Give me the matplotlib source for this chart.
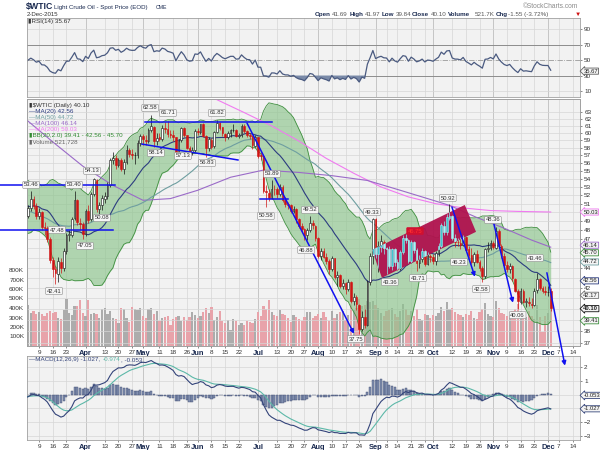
import numpy as np
import pandas as pd
import matplotlib
matplotlib.use("Agg")
import matplotlib.pyplot as plt
from matplotlib.patches import Polygon, ConnectionPatch
from matplotlib.ticker import NullLocator

plt.rcParams['font.family'] = ['Liberation Sans', 'DejaVu Sans']

holidays = ['2014-12-25', '2015-01-01', '2015-01-19', '2015-02-16', '2015-04-03',
            '2015-05-25', '2015-07-03', '2015-09-07', '2015-11-26']
days = pd.bdate_range('2014-12-01', '2015-12-16', freq='C', holidays=holidays)

# closes before the visible window (Dec 2014 - Feb 2015), used only for the indicators
warm_closes = [69.00, 66.88, 67.38, 66.81, 65.84, 63.05, 63.82, 60.94, 59.95, 57.81,
               55.91, 55.93, 56.47, 54.11, 56.52, 55.26, 57.12, 55.84, 54.73, 53.61,
               54.12, 53.27,
               52.69, 50.04, 47.93, 48.65, 48.79, 48.36, 46.07, 45.89, 48.48, 46.25,
               48.69, 46.39, 47.78, 46.31, 45.59, 45.15, 46.23, 44.45, 44.53, 48.24,
               49.57, 53.05, 48.45, 50.48, 51.69, 52.86, 50.02, 48.84, 51.21, 52.78,
               53.53, 52.14, 51.16, 50.34, 49.45, 49.25, 50.99, 48.17, 49.76]

# visible window: 2-Mar-2015 .. 2-Dec-2015
opens = [49.76, 49.60, 50.50, 51.50, 50.70, 49.60, 50.00, 48.30, 48.20, 47.00,
         44.80, 43.90, 43.40, 44.60, 44.00, 45.70, 47.40, 47.50, 49.30, 51.40,
         48.80, 48.70, 47.60, 50.10, 49.20, 52.10, 53.90, 50.40, 50.80, 51.60,
         51.90, 53.30, 56.40, 56.70, 55.70, 56.40, 55.30, 56.20, 57.70, 57.20,
         57.00, 57.10, 58.60, 59.60, 59.10, 58.90, 60.40, 60.90, 58.90, 59.40,
         59.20, 60.70, 60.50, 59.90, 59.70, 59.40, 57.30, 59.00, 60.70, 59.70,
         58.00, 57.50, 57.70, 60.30, 60.20, 61.20, 59.60, 58.00, 59.10, 58.20,
         60.10, 61.40, 60.80, 59.90, 59.50, 60.00, 60.40, 60.40, 59.60, 59.70,
         61.00, 60.30, 59.70, 59.60, 58.30, 59.40, 57.00, 56.90, 52.50, 52.30,
         51.70, 52.80, 52.70, 52.20, 53.00, 51.40, 50.90, 50.90, 50.10, 50.40,
         49.20, 48.40, 48.10, 47.40, 48.00, 48.80, 48.50, 47.10, 45.20, 45.70,
         45.10, 44.70, 43.90, 45.00, 43.10, 43.30, 42.20, 42.50, 41.90, 42.60,
         40.80, 41.10, 40.40, 38.20, 39.30, 38.60, 42.60, 45.20, 49.20, 45.40,
         46.20, 46.70, 46.00, 45.90, 44.20, 45.90, 44.60, 44.00, 45.60, 47.10,
         46.90, 44.70, 46.70, 45.80, 44.50, 44.90, 45.70, 44.40, 45.20, 45.10,
         44.70, 45.50, 46.30, 48.50, 47.80, 49.40, 49.60, 47.10, 46.70, 46.60,
         46.40, 47.20, 45.90, 45.30, 44.60, 45.40, 44.60, 44.00, 43.20, 45.90,
         46.10, 46.60, 46.10, 47.90, 46.30, 45.20, 44.30, 43.90, 44.20, 42.90,
         41.70, 40.70, 41.70, 40.70, 40.70, 40.50, 40.40, 41.80, 42.90, 42.00,
         41.70, 41.60, 41.69]
highs = [50.10, 50.90, 52.48, 51.90, 51.10, 50.50, 50.20, 48.90, 48.40, 47.20,
         45.10, 44.20, 45.10, 45.00, 46.00, 47.70, 48.00, 49.50, 52.48, 51.60,
         49.40, 48.90, 50.40, 50.80, 52.40, 54.13, 54.00, 51.20, 52.00, 52.40,
         53.60, 56.60, 57.40, 57.00, 56.70, 56.70, 56.50, 58.40, 58.00, 57.90,
         57.50, 59.00, 59.90, 59.90, 59.80, 60.70, 62.58, 61.00, 60.00, 60.00,
         61.10, 61.60, 61.71, 60.40, 60.40, 59.50, 59.20, 60.90, 60.80, 59.80,
         58.20, 58.10, 60.50, 60.70, 61.30, 61.40, 59.80, 59.40, 59.30, 60.30,
         61.82, 61.50, 60.90, 60.00, 60.30, 60.60, 61.20, 60.50, 60.00, 61.30,
         61.20, 60.40, 60.00, 59.70, 59.70, 59.50, 57.40, 57.00, 53.30, 52.80,
         53.89, 53.20, 53.00, 53.40, 53.20, 51.80, 51.20, 51.00, 50.70, 50.50,
         49.40, 48.80, 48.20, 48.20, 49.52, 49.10, 48.60, 47.20, 46.00, 46.10,
         45.50, 44.90, 45.20, 45.00, 43.70, 43.40, 42.90, 42.60, 42.90, 42.70,
         41.50, 41.30, 40.50, 39.80, 40.00, 42.80, 45.50, 49.33, 49.30, 46.80,
         47.50, 46.90, 46.20, 46.30, 46.00, 46.00, 44.90, 45.80, 47.40, 47.60,
         47.00, 46.90, 46.80, 46.00, 45.30, 46.00, 45.80, 45.60, 45.40, 45.40,
         45.70, 46.60, 48.80, 49.00, 49.80, 50.92, 49.70, 47.60, 47.10, 47.20,
         47.50, 47.30, 46.30, 46.00, 45.60, 45.80, 44.80, 44.20, 46.10, 46.70,
         46.90, 46.80, 48.36, 48.10, 46.50, 45.50, 44.70, 44.50, 44.30, 43.00,
         41.90, 42.00, 41.90, 41.00, 41.10, 41.00, 42.00, 43.46, 43.00, 42.20,
         42.20, 42.20, 41.97]
lows = [49.00, 49.40, 50.20, 50.40, 49.20, 49.20, 48.00, 47.50, 46.70, 44.50,
        43.10, 42.41, 42.60, 43.50, 43.70, 45.40, 46.80, 47.20, 49.10, 48.60,
        48.00, 47.05, 47.30, 48.80, 49.00, 51.90, 50.08, 49.80, 50.30, 51.10,
        51.50, 53.00, 55.90, 55.30, 55.50, 55.00, 54.60, 55.90, 56.80, 56.50,
        55.90, 56.70, 58.30, 58.40, 58.40, 58.60, 60.20, 58.14, 58.40, 58.90,
        58.90, 60.00, 59.50, 59.30, 58.90, 57.13, 57.20, 58.80, 59.40, 57.80,
        57.20, 57.00, 57.50, 59.70, 59.90, 59.50, 56.83, 57.60, 57.90, 58.00,
        60.00, 60.40, 59.60, 58.90, 59.20, 59.50, 60.10, 59.40, 59.30, 59.50,
        60.00, 59.40, 59.20, 57.80, 58.10, 56.70, 56.40, 52.30, 50.58, 51.30,
        51.50, 52.00, 51.70, 51.90, 51.20, 50.60, 50.40, 49.90, 49.90, 48.80,
        48.20, 47.80, 46.88, 46.90, 47.80, 48.10, 46.80, 45.00, 44.80, 45.00,
        44.40, 43.40, 43.70, 42.90, 42.20, 42.00, 41.90, 41.40, 41.70, 40.60,
        40.40, 39.90, 37.75, 38.00, 38.30, 38.50, 42.30, 44.40, 45.00, 43.60,
        45.60, 45.40, 43.36, 44.00, 43.80, 44.20, 43.80, 43.80, 45.40, 46.60,
        44.50, 44.50, 45.50, 43.71, 44.00, 44.60, 44.20, 44.30, 44.60, 44.40,
        44.30, 45.20, 46.10, 47.50, 47.40, 49.10, 46.90, 46.20, 46.23, 45.90,
        46.30, 45.60, 45.00, 44.40, 44.20, 44.50, 43.70, 42.58, 43.00, 45.60,
        45.80, 45.90, 45.90, 46.10, 45.00, 44.00, 43.60, 43.50, 42.70, 41.60,
        40.06, 40.50, 40.60, 40.20, 40.30, 40.10, 40.30, 41.50, 41.80, 41.50,
        41.30, 41.20, 39.84]
closes = [49.59, 50.52, 51.53, 50.76, 49.61, 50.00, 48.29, 48.17, 47.05, 44.84,
          43.88, 43.46, 44.66, 43.96, 45.72, 47.45, 47.51, 49.21, 51.43, 48.87,
          48.68, 47.60, 50.09, 49.14, 52.14, 53.98, 50.42, 50.79, 51.64, 51.91,
          53.29, 56.39, 56.71, 55.74, 56.38, 55.26, 56.16, 57.74, 57.15, 56.99,
          57.06, 58.58, 59.63, 59.15, 58.93, 60.40, 60.93, 58.94, 59.39, 59.25,
          60.75, 60.50, 59.88, 59.69, 59.43, 57.26, 58.98, 60.72, 59.72, 58.03,
          57.51, 57.68, 60.30, 60.20, 61.26, 59.64, 58.00, 59.13, 58.14, 60.14,
          61.43, 60.77, 59.96, 59.52, 59.97, 60.45, 60.45, 59.61, 59.68, 61.01,
          60.27, 59.70, 59.63, 58.33, 59.47, 56.96, 56.93, 52.53, 52.33, 51.65,
          52.78, 52.74, 52.20, 53.04, 51.41, 50.91, 50.89, 50.15, 50.36, 49.19,
          48.45, 48.14, 47.39, 47.98, 48.79, 48.52, 47.12, 45.17, 45.74, 45.15,
          44.66, 43.87, 44.96, 43.08, 43.30, 42.23, 42.50, 41.87, 42.62, 40.80,
          41.14, 40.45, 38.24, 39.31, 38.60, 42.56, 45.22, 49.20, 45.41, 46.25,
          46.75, 46.05, 45.94, 44.15, 45.92, 44.63, 44.00, 45.59, 47.15, 46.90,
          44.68, 46.68, 45.83, 44.48, 44.91, 45.70, 44.43, 45.23, 45.09, 44.74,
          45.54, 46.26, 48.53, 47.81, 49.43, 49.63, 47.10, 46.66, 46.64, 46.38,
          47.26, 45.89, 45.29, 44.60, 45.38, 44.60, 43.98, 43.20, 45.94, 46.06,
          46.59, 46.14, 47.90, 46.32, 45.20, 44.29, 43.87, 44.21, 42.93, 41.75,
          40.74, 41.74, 40.67, 40.75, 40.54, 40.39, 41.75, 42.87, 42.04, 41.71,
          41.65, 41.65, 40.10]
volumes_k = [355, 432, 348, 372, 341, 362, 336, 318, 352, 368,
             345, 361, 297, 282, 376, 491, 352, 330, 425, 424,
             480, 352, 316, 487, 338, 352, 332, 299, 386, 395,
             340, 372, 298, 287, 240, 402, 391, 300, 254, 410,
             392, 380, 402, 311, 298, 385, 402, 338, 371, 268,
             291, 302, 311, 226, 285, 305, 318, 258, 310, 275,
             302, 362, 330, 290, 318, 354, 402, 345, 414, 272,
             301, 370, 265, 240, 278, 172, 286, 260, 218, 242,
             226, 268, 251, 240, 282, 363, 312, 425, 392, 480,
             357, 330, 318, 380, 341, 329, 292, 248, 325, 302,
             280, 262, 310, 354, 362, 290, 318, 332, 290, 358,
             304, 261, 372, 298, 342, 356, 372, 276, 328, 440,
             380, 405, 498, 420, 436, 470, 468, 472, 436, 398,
             352, 318, 372, 378, 402, 341, 310, 368, 445, 388,
             330, 372, 321, 392, 288, 275, 342, 330, 296, 322,
             318, 344, 410, 372, 460, 390, 402, 362, 341, 322,
             308, 336, 322, 364, 298, 288, 362, 386, 452, 338,
             312, 305, 478, 398, 352, 338, 320, 326, 372, 392,
             438, 372, 358, 305, 364, 321, 288, 434, 302, 152,
             318, 352, 521.728]

# long moving averages (day index -> value)
ma100_day = [0, 10, 21, 32, 43, 53, 63, 75, 87, 100, 112, 125, 137, 149, 155, 165, 175, 185, 192]
ma100_val = [62.0, 58.8, 55.6, 53.2, 51.4, 51.6, 52.6, 54.2, 55.1, 54.8, 54.4, 53.8, 52.6,
             51.4, 50.8, 49.4, 48.2, 46.9, 46.14]
ma200_day = [60, 70, 80, 90, 100, 110, 120, 130, 140, 150, 160, 170, 180, 192]
ma200_val = [67.5, 64.8, 62.9, 61.0, 58.9, 56.6, 54.7, 53.0, 51.8, 51.0, 50.5, 50.2, 50.1, 50.03]

# swing labels on the price panel: text, day index, price
swing_text = ['53.46', '53.40', '47.48', '54.13', '50.08', '47.05', '42.41', '62.58', '61.71',
              '58.14', '57.13', '56.83', '61.82', '53.89', '50.58', '49.52', '46.88', '49.33',
              '50.92', '46.23', '43.71', '43.36', '42.58', '48.36', '43.46', '40.06', '37.75']
swing_day = [2.1, 17.8, 11.6, 24.4, 28.0, 21.8, 10.5, 45.6, 52.1, 47.7, 57.6, 66.4, 70.0,
             90.1, 87.9, 104.0, 102.6, 126.7, 154.4, 158.5, 143.5, 133.2, 166.5, 170.9,
             186.2, 179.9, 120.8]
swing_price = [53.25, 53.25, 48.0, 55.0, 49.35, 46.27, 41.71, 63.58, 62.85, 57.32, 56.93,
               56.01, 62.85, 54.61, 49.58, 50.27, 45.84, 50.03, 51.67, 44.59, 42.97, 42.58,
               41.90, 49.12, 45.0, 39.46, 37.34]

# hand drawn trend lines: (day, price) -> (day, price), arrow?
trend_lines = [((-9.2, 53.2), (32.8, 53.2), False),
               ((-9.2, 48.0), (32.0, 48.0), False),
               ((43.7, 61.5), (90.1, 61.5), False),
               ((42.6, 58.5), (77.7, 56.4), False),
               ((85.7, 51.6), (96.0, 51.6), False),
               ((81.0, 61.4), (120.1, 37.8), True),
               ((155.9, 50.6), (164.3, 43.1), True),
               ((170.9, 49.1), (178.2, 40.6), True)]
flag_corners = [(130.3, 43.0), (126.7, 45.85), (160.6, 50.85), (164.7, 47.8)]

tick_dates = ['2015-03-09', '2015-03-16', '2015-03-23', '2015-04-01', '2015-04-13', '2015-04-20',
              '2015-04-27', '2015-05-01', '2015-05-11', '2015-05-18', '2015-05-26', '2015-06-01',
              '2015-06-08', '2015-06-15', '2015-06-22', '2015-07-01', '2015-07-13', '2015-07-20',
              '2015-07-27', '2015-08-03', '2015-08-10', '2015-08-17', '2015-08-24', '2015-09-01',
              '2015-09-08', '2015-09-14', '2015-09-21', '2015-09-28', '2015-10-01', '2015-10-12',
              '2015-10-19', '2015-10-26', '2015-11-02', '2015-11-09', '2015-11-16', '2015-11-23',
              '2015-12-01', '2015-12-07', '2015-12-14']
tick_labels = ['9', '16', '23', 'Apr', '13', '20', '27', 'May', '11', '18', '26', 'Jun', '8',
               '15', '22', 'Jul', '13', '20', '27', 'Aug', '10', '17', '24', 'Sep', '8', '14',
               '21', '28', 'Oct', '12', '19', '26', 'Nov', '9', '16', '23', 'Dec', '7', '14']
price_labels = [37, 38, 42, 44, 47, 48, 49, 51, 52, 53, 54, 55, 56, 57, 58, 59, 60, 61, 62, 63]

# ---- indicators
nw = len(warm_closes)
s = pd.Series(warm_closes + closes)
ma20 = s.rolling(20).mean().values[nw:]
ma50 = s.rolling(50).mean().values[nw:]
sd20 = s.rolling(20).std(ddof=0).values[nw:]
bb_up = ma20 + 2 * sd20
bb_lo = ma20 - 2 * sd20
ema12 = s.ewm(span=12, adjust=False).mean()
ema26 = s.ewm(span=26, adjust=False).mean()
macd = ema12 - ema26
signal = macd.ewm(span=9, adjust=False).mean()
hist = (macd - signal).values[nw:]
macd = macd.values[nw:]
signal = signal.values[nw:]
d = s.diff()
avg_up = d.clip(lower=0).ewm(alpha=1/14, adjust=False).mean()
avg_dn = (-d.clip(upper=0)).ewm(alpha=1/14, adjust=False).mean()
rsi = (100 - 100 / (1 + avg_up / avg_dn)).values[nw:]

x = np.arange(len(closes))
o = np.array(opens); h = np.array(highs); l = np.array(lows); c = np.array(closes)
prev = np.concatenate([[warm_closes[-1]], c[:-1]])
down = c < prev
vol = np.array(volumes_k) * 1000

first = days.get_loc(pd.Timestamp('2015-03-02'))
tick_pos = [days.get_loc(pd.Timestamp(t)) - first for t in tick_dates]
month_pos = [p for p, t in zip(tick_pos, tick_labels) if not t.isdigit()]

# ---- figure
BG = '#f2f2f2'
GRID = '#d6d6d6'
fig = plt.figure(figsize=(6, 4.5), dpi=100)
fig.patch.set_facecolor('white')

def panel(top, bottom):
    a = fig.add_axes([27/600, 1 - bottom/450, 553/600, (bottom - top)/450])
    a.set_xlim(0.6, 202.7)
    for sp in a.spines.values():
        sp.set_color('#a0a0a0')
        sp.set_linewidth(0.6)
    a.tick_params(labelsize=4.6, length=1.5, width=0.4, colors='#333333', pad=1.5)
    return a

ax_rsi = panel(18, 97)
ax_vol = panel(99, 346)
ax = panel(99, 346)
ax_macd = panel(356, 440)
ax.patch.set_visible(False)
for a in (ax_rsi, ax_vol, ax_macd):
    a.set_facecolor(BG)
    for p in tick_pos:
        a.axvline(p, color=GRID, lw=0.5, zorder=0)
    for p in month_pos:
        a.axvline(p, color='#c2c2c2', lw=0.6, zorder=0)

# RSI
ax_rsi.set_ylim(2.3, 104.2)
ax_rsi.plot(x, rsi, color='#4a5a80', lw=0.9)
ax_rsi.fill_between(x, rsi, 30, where=rsi < 30, color='#7a8aa8', interpolate=True, lw=0)
ax_rsi.fill_between(x, rsi, 70, where=rsi > 70, color='#7a8aa8', interpolate=True, lw=0)
for lev in (10, 90):
    ax_rsi.axhline(lev, color=GRID, lw=0.5, zorder=0)
for lev in (30, 70):
    ax_rsi.axhline(lev, color='#8c8c8c', lw=0.7, zorder=0)
ax_rsi.axhline(50, color='#9a9a9a', lw=0.6, ls='-.', zorder=0)
ax_rsi.yaxis.tick_right()
ax_rsi.set_yticks([10, 30, 50, 70, 90])
ax_rsi.set_xticks([])

# volume
ax_vol.set_ylim(0, 2.6e6)
ax_vol.bar(x, vol, width=0.82, color=np.where(down, '#e8a3aa', '#acacac'), lw=0, zorder=2)
ax_vol.set_yticks([k * 1e5 for k in range(1, 9)])
ax_vol.set_yticklabels([f'{k}00K' for k in range(1, 9)])
ax_vol.tick_params(axis='y', length=0, pad=2)
ax_vol.set_xticks([])

# price
ax.set_yscale('log')
ax.set_ylim(36.75, 64.9)
ax.yaxis.set_minor_locator(NullLocator())
ax.yaxis.tick_right()
ax.set_yticks(price_labels)
ax.set_yticklabels([str(v) for v in price_labels])
for v in range(37, 64):
    ax.axhline(v, color=GRID, lw=0.5, zorder=0)
ax.fill_between(x, bb_lo, bb_up, color='#8cc48c', alpha=0.65, lw=0, zorder=1)
ax.plot(x, bb_up, color='#3f8f3f', lw=0.6, zorder=1.5)
ax.plot(x, bb_lo, color='#3f8f3f', lw=0.6, zorder=1.5)
ax.plot(ma200_day, ma200_val, color='#f07af0', lw=0.8, zorder=2)
ax.plot(ma100_day, ma100_val, color='#9a6ac8', lw=0.8, zorder=2)
ax.plot(x, ma50, color='#6e9ea0', lw=0.8, zorder=2)
ax.plot(x, ma20, color='#2c3c80', lw=0.8, zorder=2)

col = np.where(down, '#d01414', '#111111')
face = np.where(c >= o, 'white', col)
body_lo = np.minimum(o, c)
body_h = np.maximum(np.abs(c - o), 0.06)
ax.vlines(x, l, h, colors=col, lw=0.5, zorder=3)
ax.bar(x, body_h, bottom=body_lo, width=0.62, color=face, edgecolor=col, lw=0.4, zorder=3.2)

flag = Polygon(flag_corners, closed=True, fc='#b0124e', ec='none', alpha=0.95, zorder=4)
ax.add_patch(flag)
wk = ax.vlines(x, l, h, colors='#8ef4f4', lw=0.5, zorder=4.5)
wk.set_clip_path(flag)
cy = ax.bar(x, body_h, bottom=body_lo, width=0.62,
            color=np.where(c >= o, '#40c8d0', '#9ff8f8'), edgecolor='#9ff8f8', lw=0.4, zorder=4.6)
for p in cy.patches:
    p.set_clip_path(flag)

for (p0, p1, arrow) in trend_lines:
    if arrow:
        ax.annotate('', xy=p1, xytext=p0, zorder=6,
                    arrowprops=dict(arrowstyle='-|>', color='#1010f0', lw=1.1,
                                    mutation_scale=6, shrinkA=0, shrinkB=0))
    else:
        ax.plot([p0[0], p1[0]], [p0[1], p1[1]], color='#1010f0', lw=1.1, zorder=6,
                clip_on=False)
con = ConnectionPatch(xyA=(190.6, 43.5), coordsA=ax.transData, xyB=(197.2, 2.1),
                      coordsB=ax_macd.transData, arrowstyle='-|>', color='#1010f0', lw=1.1,
                      mutation_scale=6, shrinkA=0, shrinkB=0, zorder=10)
fig.add_artist(con)

for t, dx, py in zip(swing_text, swing_day, swing_price):
    ax.text(dx, py, t, fontsize=4.2, color='#333333', ha='center', va='center', zorder=7,
            bbox=dict(boxstyle='round,pad=0.18', fc='#f6f6f6', ec='#8a8a8a', lw=0.4))
ax.text(142.4, 47.89, '46.75', fontsize=4.2, color='#ff3030', ha='center', va='center',
        zorder=7, bbox=dict(boxstyle='round,pad=0.18', fc='#d01030', ec='#d01030', lw=0.4))

ax.set_xticks(tick_pos)
ax.set_xticklabels(tick_labels)
ax_macd.set_xticks(tick_pos)
ax_macd.set_xticklabels(tick_labels)
for a in (ax, ax_macd):
    for lab in a.get_xticklabels():
        if not lab.get_text().isdigit():
            lab.set_fontweight('bold')
            lab.set_fontsize(5.4)
            lab.set_color('#1a2a50')
        elif lab.get_text() == '28':
            lab.set_horizontalalignment('right')

# MACD
ax_macd.set_ylim(-3.29, 2.8)
for v in range(-3, 3):
    ax_macd.axhline(v, color=GRID, lw=0.5, zorder=0)
ax_macd.bar(x, hist, width=0.8, color='#8290b0', edgecolor='#3e4a70', lw=0.3, zorder=2)
ax_macd.plot(x, signal, color='#5cb8a8', lw=0.8, zorder=3)
ax_macd.plot(x, macd, color='#34447a', lw=0.8, zorder=3)
ax_macd.yaxis.tick_right()
ax_macd.set_yticks([-3, -2, 1, 2])

# value tags on the right edge
def tag(a, val, text, ec, tc='#222222', bold=False):
    a.annotate(text, xy=(1.0, val), xycoords=('axes fraction', 'data'), xytext=(1.006, val),
               textcoords=('axes fraction', 'data'), fontsize=4.2, color=tc, va='center',
               ha='left', fontweight='bold' if bold else 'normal', annotation_clip=False,
               bbox=dict(boxstyle='larrow,pad=0.1', fc='#f4f4f4', ec=ec, lw=0.6), zorder=8)

tag(ax_rsi, 35.67, '35.67', '#606060')
tag(ax, 50.03, '50.03', '#f07af0')
tag(ax, 46.35, '46.14', '#9a6ac8')
tag(ax, 45.55, '45.70', '#3f8f3f')
tag(ax, 44.6, '44.72', '#6e9ea0')
tag(ax, 42.7, '42.56', '#2c3c80')
tag(ax, 41.3, '42.17', '#707070')
tag(ax, 40.05, '40.10', '#111111', bold=True)
tag(ax, 38.95, '39.41', '#3f8f3f')
tag(ax_macd, -0.053, '-0.053', '#34447a')
tag(ax_macd, -1.027, '-1.027', '#34447a')

# header and legends
def ftext(px, py, t, **kw):
    return fig.text(px / 600, 1 - py / 450, t, va='center', **kw)

ftext(26, 7, '$WTIC', fontsize=6.3, fontweight='bold', color='#1a2a50')
ftext(54, 7, 'Light Crude Oil - Spot Price (EOD)', fontsize=4.4, color='#1a2a50')
ftext(156, 7.5, 'CME', fontsize=3.8, color='#1a2a50')
ftext(27, 14.5, '2-Dec-2015', fontsize=4.4, color='#333333')
ftext(578, 6, '\u00a9StockCharts.com', fontsize=4.8, color='#8a8a8a', ha='right')
parts = [(315, 'Open', '#1a2a50', 'bold'), (332, '41.69', '#555555', 'normal'),
         (350, 'High', '#1a2a50', 'bold'), (365, '41.97', '#555555', 'normal'),
         (382, 'Low', '#1a2a50', 'bold'), (396, '39.84', '#555555', 'normal'),
         (412, 'Close', '#1a2a50', 'bold'), (431, '40.10', '#555555', 'normal'),
         (448, 'Volume', '#1a2a50', 'bold'), (475, '521.7K', '#555555', 'normal'),
         (496, 'Chg', '#1a2a50', 'bold'), (508, '-1.55 (-3.72%)', '#555555', 'normal'),
         (575, '\u25bc', '#d01010', 'normal')]
for px, t, cl, fw in parts:
    ftext(px, 14.5, t, fontsize=4.5, color=cl, fontweight=fw)

ftext(28, 22, '\u25aeRSI(14) 35.67', fontsize=4.5, color='#333333')
legend = [('\u25ae$WTIC (Daily) 40.10', '#333333'),
          ('\u2014MA(20) 42.56', '#2c3c80'),
          ('\u2014MA(50) 44.72', '#6e9ea0'),
          ('\u2014MA(100) 46.14', '#9a6ac8'),
          ('\u2014MA(200) 50.03', '#f07af0'),
          ('\u25aeBB(20,2.0) 39.41 - 42.56 - 45.70', '#2f8a2f'),
          ('\u25aeVolume 521,728', '#666666')]
for i, (t, cl) in enumerate(legend):
    ftext(29, 105.5 + 6.1 * i, t, fontsize=4.5, color=cl)

# MACD legend: pieces placed one after another
renderer = fig.canvas.get_renderer()
px = 29
for t, cl in [('\u2014MACD(12,26,9) -1.027, ', '#34447a'), ('-0.974', '#5cb8a8'),
              (', -0.053', '#34447a')]:
    txt = ftext(px, 359.5, t, fontsize=4.5, color=cl)
    px += txt.get_window_extent(renderer).width + 0.5

fig.savefig('out.png', dpi=100)
